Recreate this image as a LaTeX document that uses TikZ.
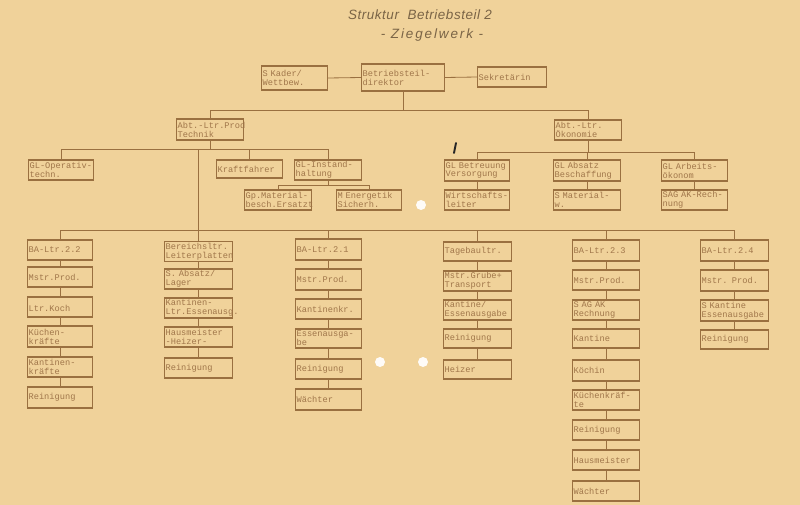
\documentclass[tikz,border=0pt]{standalone}
\usepackage{fontspec}
\setmonofont{Liberation Mono}
\setsansfont{Liberation Sans}
\definecolor{paper}{HTML}{F0D29A}
\definecolor{linec}{HTML}{9A7040}
\definecolor{txtc}{HTML}{A0764A}
\definecolor{titlec}{HTML}{7A6446}
\tikzset{
  bx/.style={draw=linec, line width=0.9pt, inner sep=1pt, align=left, text=txtc,
    font=\ttfamily\fontsize{7.4}{7.6}\selectfont},
  conn/.style={draw=linec, line width=0.7pt},
  ttl/.style={text=titlec, font=\sffamily\itshape\fontsize{11.5}{13}\selectfont, inner sep=0pt}
}
\newcommand{\bx}[6]{%
  \pgfmathsetmacro\bxt{(#4-#2)*0.03*28.4528-2.8}%
  \pgfmathsetmacro\bxh{(#5-#3)*0.03}%
  \pgfmathsetmacro\bxcx{(#2+#4)/2}%
  \pgfmathsetmacro\bxcy{(#3+#5)/2}%
  \node[bx, text width=\bxt pt, minimum height=\bxh cm] (#1) at (\bxcx,\bxcy) {#6};%
}
\begin{document}
\begin{tikzpicture}[x=0.03cm,y=-0.03cm]
\useasboundingbox (0,0) rectangle (800,505);
\fill[paper] (0,0) rectangle (800,505);

% title
\node[ttl] (t1) at (420,15) {\addfontfeature{LetterSpace=4}Struktur\ \ Betriebsteil 2};
\node[ttl] (t2) at (432,35) {\addfontfeature{LetterSpace=14}- Ziegelwerk -};

% top
\bx{kader}{261}{66}{328}{90}{S Kader/\\Wettbew.}
\bx{dir}{361}{64}{445}{91}{Betriebsteil-\\direktor}
\bx{sekr}{477}{67}{547}{87}{Sekretärin}

% level 2
\bx{prodtech}{176}{119}{244}{140}{Abt.-Ltr.Prod\\Technik}
\bx{oek}{554}{120}{622}{140}{Abt.-Ltr.\\Ökonomie}

% level 3
\bx{glop}{28}{160}{94}{180}{GL-Operativ-\\techn.}
\bx{kraft}{216}{160}{283}{178}{Kraftfahrer}
\bx{glinst}{294}{160}{362}{180}{GL-Instand-\\haltung}
\bx{gpmat}{244}{190}{312}{210}{Gp.Material-\\besch.Ersatzt}
\bx{energ}{336}{190}{402}{210}{M Energetik\\Sicherh.}
\bx{glbet}{444}{160}{510}{181}{GL Betreuung\\Versorgung}
\bx{wirt}{444}{190}{510}{210}{Wirtschafts-\\leiter}
\bx{glabs}{553}{160}{621}{181}{GL Absatz\\Beschaffung}
\bx{smat}{553}{190}{621}{210}{S Material-\\w.}
\bx{glarb}{661}{160}{728}{181}{GL Arbeits-\\ökonom}
\bx{sag}{661}{190}{728}{210}{SAG AK-Rech-\\nung}

% column 1
\bx{a1}{27}{240}{93}{260}{BA-Ltr.2.2}
\bx{a2}{27}{267}{93}{287}{Mstr.Prod.}
\bx{a3}{27}{297}{93}{317}{\mbox{}\\Ltr.Koch}
\bx{a4}{27}{326}{93}{347}{Küchen-\\kräfte}
\bx{a5}{27}{357}{93}{377}{Kantinen-\\kräfte}
\bx{a6}{27}{387}{93}{408}{Reinigung}

% column 2
\bx{b1}{164}{242}{233}{261}{Bereichsltr.\\Leiterplatten}
\bx{b2}{164}{269}{233}{289}{S. Absatz/\\Lager}
\bx{b3}{164}{298}{233}{318}{Kantinen-\\Ltr.Essenausg.}
\bx{b4}{164}{327}{233}{347}{Hausmeister\\-Heizer-}
\bx{b5}{164}{358}{233}{378}{Reinigung}

% column 3
\bx{c1}{295}{239}{362}{260}{BA-Ltr.2.1}
\bx{c2}{295}{269}{362}{290}{Mstr.Prod.}
\bx{c3}{295}{299}{362}{319}{Kantinenkr.}
\bx{c4}{295}{329}{362}{348}{Essenausga-\\be}
\bx{c5}{295}{359}{362}{379}{Reinigung}
\bx{c6}{295}{389}{362}{410}{Wächter}

% column 4
\bx{d1}{443}{242}{512}{261}{Tagebaultr.}
\bx{d2}{443}{271}{512}{291}{Mstr.Grube+\\Transport}
\bx{d3}{443}{300}{512}{320}{Kantine/\\Essenausgabe}
\bx{d4}{443}{329}{512}{348}{Reinigung}
\bx{d5}{443}{360}{512}{379}{Heizer}

% column 5
\bx{e1}{572}{240}{640}{261}{BA-Ltr.2.3}
\bx{e2}{572}{270}{640}{290}{Mstr.Prod.}
\bx{e3}{572}{300}{640}{320}{S AG AK\\Rechnung}
\bx{e4}{572}{329}{640}{348}{Kantine}
\bx{e5}{572}{360}{640}{381}{Köchin}
\bx{e6}{572}{390}{640}{410}{Küchenkräf-\\te}
\bx{e7}{572}{420}{640}{440}{Reinigung}
\bx{e8}{572}{450}{640}{470}{Hausmeister}
\bx{e9}{572}{481}{640}{501}{Wächter}

% column 6
\bx{f1}{700}{240}{769}{261}{BA-Ltr.2.4}
\bx{f2}{700}{270}{769}{291}{Mstr. Prod.}
\bx{f3}{700}{300}{769}{321}{S Kantine\\Essenausgabe}
\bx{f4}{700}{330}{769}{349}{Reinigung}

% bus coordinates
\coordinate (bus1) at (0,110);
\coordinate (bus2) at (0,149);
\coordinate (bus3) at (0,185);
\coordinate (bus4) at (0,152);
\coordinate (bus5) at (0,230);

% connectors top
\draw[conn] (kader.east) -- (dir.west);
\draw[conn] (dir.east) -- (sekr.west);
\draw[conn] (dir.south) -- (dir.south |- bus1);
\draw[conn] (prodtech.north) -- (prodtech.north |- bus1) -- (oek.north |- bus1) -- (oek.north);

% under Technik
\draw[conn] (glop.north) -- (glop.north |- bus2) -- (glinst.north |- bus2) -- (glinst.north);
\draw[conn] (kraft.north) -- (kraft.north |- bus2);
\draw[conn] (prodtech.south) -- (prodtech.south |- bus2);
\draw[conn] (glinst.south) -- (glinst.south |- bus3);
\draw[conn] (gpmat.north) -- (gpmat.north |- bus3) -- (energ.north |- bus3) -- (energ.north);

% under Oekonomie
\draw[conn] (oek.south) -- (oek.south |- bus4);
\draw[conn] (glbet.north) -- (glbet.north |- bus4) -- (glarb.north |- bus4) -- (glarb.north);
\draw[conn] (glabs.north) -- (glabs.north |- bus4);
\draw[conn] (glbet.south) -- (wirt.north);
\draw[conn] (glabs.south) -- (smat.north);
\draw[conn] (glarb.south) -- (sag.north);

% main bus
\draw[conn] (b1.north) -- (b1.north |- bus2);
\draw[conn] (a1.north) -- (a1.north |- bus5) -- (f1.north |- bus5) -- (f1.north);
\draw[conn] (c1.north) -- (c1.north |- bus5);
\draw[conn] (d1.north) -- (d1.north |- bus5);
\draw[conn] (e1.north) -- (e1.north |- bus5);

% column chains
\foreach \p/\q in {a1/a2,a2/a3,a3/a4,a4/a5,a5/a6,
                   b1/b2,b2/b3,b3/b4,b4/b5,
                   c1/c2,c2/c3,c3/c4,c4/c5,c5/c6,
                   d1/d2,d2/d3,d3/d4,d4/d5,
                   e1/e2,e2/e3,e3/e4,e4/e5,e5/e6,e6/e7,e7/e8,e8/e9,
                   f1/f2,f2/f3,f3/f4}
  \draw[conn] (\p.south) -- (\q.north);

% punch holes and pen mark
\fill[white!92!paper] (421,205) circle (5);
\fill[white!92!paper] (380,362) circle (5);
\fill[white!92!paper] (423,362) circle (5);
\draw[black!85, line width=1.6pt, line cap=round] (456,143) -- (454,153);
\end{tikzpicture}
\end{document}
